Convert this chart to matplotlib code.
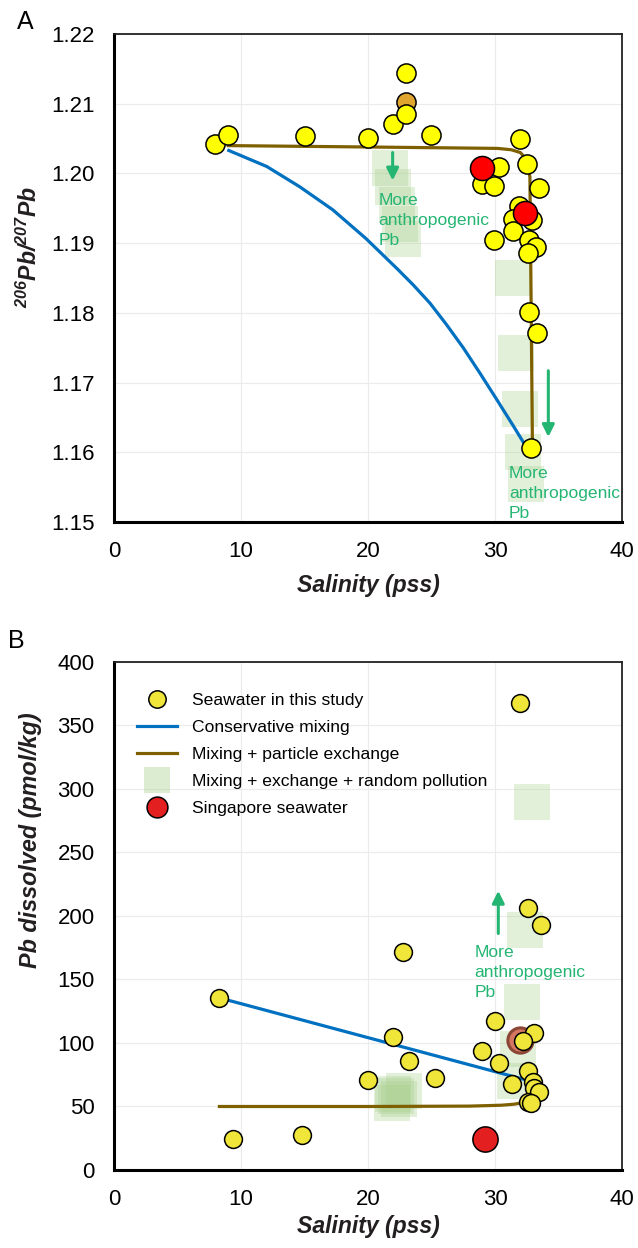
import matplotlib
matplotlib.use("Agg")
import matplotlib.pyplot as plt
from matplotlib.lines import Line2D

plt.rcParams['font.family'] = ['Liberation Sans', 'DejaVu Sans']
plt.rcParams['mathtext.fontset'] = 'custom'
plt.rcParams['mathtext.rm'] = 'Liberation Sans:bold:italic'
plt.rcParams['mathtext.it'] = 'Liberation Sans:bold:italic'
plt.rcParams['mathtext.bf'] = 'Liberation Sans:bold:italic'

# ---- panel A : 206Pb/207Pb vs salinity ----
a_sal = [7.99, 8.96, 15.0, 19.97, 22.0, 23.0, 23.0, 24.97, 32.0, 30.3, 28.96, 29.96,
         32.5, 33.5, 31.9, 31.4, 32.9, 31.4, 29.96, 32.7, 33.25, 32.6, 32.64, 33.3, 32.87]
a_ratio = [1.2043, 1.2055, 1.2054, 1.2051, 1.2071, 1.2144, 1.2085, 1.2055, 1.2049, 1.2009,
           1.1985, 1.1982, 1.2014, 1.1979, 1.1954, 1.1934, 1.1933, 1.1918, 1.1904, 1.1904,
           1.1895, 1.1886, 1.1801, 1.1771, 1.1606]
a_orange_sal = [23.0]
a_orange_ratio = [1.2103]
a_sg_sal = [28.96, 32.4]
a_sg_ratio = [1.2008, 1.1944]

a_cons_sal = [9.04, 12.03, 14.62, 17.22, 19.82, 22.26, 23.57, 24.88, 26.19, 27.5, 28.8,
              30.13, 31.44, 32.65]
a_cons_ratio = [1.2033, 1.2010, 1.1981, 1.1948, 1.1907, 1.1864, 1.1840, 1.1814, 1.1783,
                1.1750, 1.1714, 1.1676, 1.1638, 1.1602]
a_exch_sal = [9.0, 20.0, 30.2, 31.3, 32.0, 32.4, 32.6, 32.75, 32.8, 32.95]
a_exch_ratio = [1.2040, 1.2038, 1.2036, 1.2034, 1.2030, 1.2022, 1.2010, 1.1995, 1.1900,
                1.1606]
a_poll_sal = [21.7, 22.0, 22.25, 22.5, 22.75, 31.4, 31.65, 32.0, 32.2, 32.45]
a_poll_ratio = [1.2008, 1.1980, 1.1955, 1.1928, 1.1906, 1.1850, 1.1743, 1.1662, 1.1600,
                1.1555]

# ---- panel B : dissolved Pb vs salinity ----
b_sal = [8.3, 9.34, 14.84, 20.0, 22.0, 22.76, 23.26, 25.26, 28.98, 29.97, 30.3, 31.33,
         31.96, 32.6, 32.6, 33.1, 33.0, 33.1, 33.46, 32.58, 32.8, 33.6, 32.2]
b_pb = [135.5, 24.7, 27.9, 71.0, 104.5, 171.6, 85.5, 72.1, 93.7, 117.6, 84.2, 67.6,
        368.0, 206.0, 77.9, 107.6, 69.0, 64.5, 61.1, 53.2, 52.5, 192.5, 101.8]
b_ring_sal = [31.97]
b_ring_pb = [102.4]
b_sg_sal = [29.2]
b_sg_pb = [24.2]

b_cons_sal = [8.3, 32.6]
b_cons_pb = [135.5, 70.5]
b_exch_sal = [8.3, 20.0, 28.0, 30.5, 31.5, 32.2, 32.6]
b_exch_pb = [50.0, 50.0, 50.3, 51.0, 51.8, 53.0, 55.0]
b_poll_sal = [32.9, 32.4, 32.1, 31.85, 31.6, 21.9, 22.2, 22.45, 22.8, 22.0]
b_poll_pb = [290, 189, 132, 95, 70, 53, 58, 56, 62, 60]

labels = ['Seawater in this study', 'Conservative mixing', 'Mixing + particle exchange',
          'Mixing + exchange + random pollution', 'Singapore seawater']

BLUE = '#0070c0'
BROWN = '#7f6000'
GREEN = '#25b573'
SQ = '#a9d08e'

fig = plt.figure(figsize=(6.38, 12.48), dpi=100)
axA = fig.add_axes([0.1787, 0.5817, 0.7962, 0.3910])
axB = fig.add_axes([0.1787, 0.0625, 0.7962, 0.4071])


def style(ax):
    ax.grid(True, color='#ebebeb', lw=0.8)
    ax.set_axisbelow(True)
    ax.tick_params(length=0, pad=14, labelsize=16)
    for s in ['left', 'bottom']:
        ax.spines[s].set_linewidth(2.2)
        ax.spines[s].set_color('black')
    for s in ['top', 'right']:
        ax.spines[s].set_linewidth(1.3)
        ax.spines[s].set_color('#222222')
    ax.set_xlim(0, 40)
    ax.set_xticks([0, 10, 20, 30, 40])
    ax.set_xlabel('Salinity (pss)', fontsize=16.6, fontweight='bold', style='italic',
                  color='#231f20')


def more_text(ax, x, y):
    ax.text(x, y, 'More\nanthropogenic\nPb', color=GREEN, fontsize=12.6,
            va='top', ha='left', linespacing=1.42, zorder=5)


def arrow(ax, x, y0, y1):
    ax.annotate('', xy=(x, y1), xytext=(x, y0),
                arrowprops=dict(arrowstyle='-|>', color=GREEN, lw=2.2,
                                mutation_scale=18), zorder=5)


# panel A
style(axA)
axA.set_ylim(1.15, 1.22)
axA.set_yticks([1.15, 1.16, 1.17, 1.18, 1.19, 1.20, 1.21, 1.22])
axA.set_yticklabels(['%.2f' % v for v in axA.get_yticks()])
axA.scatter(a_poll_sal, a_poll_ratio, marker='s', s=700, color=SQ, alpha=0.33, lw=0,
            zorder=1)
axA.plot(a_cons_sal, a_cons_ratio, color=BLUE, lw=2.3, zorder=2)
axA.plot(a_exch_sal, a_exch_ratio, color=BROWN, lw=2.3, zorder=2)
axA.scatter(a_sal, a_ratio, s=190, color='#ffff00', edgecolor='black', lw=1.1, zorder=3)
axA.scatter(a_orange_sal, a_orange_ratio, s=190, color='#e0a52e', edgecolor='black',
            lw=1.1, zorder=2.9)
axA.scatter(a_sg_sal, a_sg_ratio, s=300, color='#ff0000', edgecolor='black', lw=1.1,
            zorder=4)
arrow(axA, 21.94, 1.2034, 1.1986)
arrow(axA, 34.2, 1.1721, 1.1618)
more_text(axA, 20.8, 1.1972)
more_text(axA, 31.1, 1.1581)
axA.set_ylabel(r'$^{206}Pb/^{207}Pb$', fontsize=16.6, color='#231f20')
axA.yaxis.set_label_coords(-0.142, 0.5635)
axA.xaxis.set_label_coords(0.5, -0.106)
fig.text(0.039, 0.982, 'A', fontsize=18, ha='center', va='center')

# panel B
style(axB)
axB.set_ylim(0, 400)
axB.set_yticks(range(0, 401, 50))
axB.scatter(b_poll_sal, b_poll_pb, marker='s', s=700, color=SQ, alpha=0.33, lw=0,
            zorder=1)
axB.plot(b_cons_sal, b_cons_pb, color=BLUE, lw=2.3, zorder=2)
axB.plot(b_exch_sal, b_exch_pb, color=BROWN, lw=2.3, zorder=2)
axB.scatter(b_ring_sal, b_ring_pb, s=330, color='#d57660', edgecolor='#8c4636', lw=2.2,
            zorder=2.9)
axB.scatter(b_sal, b_pb, s=165, color='#f0e63a', edgecolor='black', lw=1.1, zorder=3)
axB.scatter(b_sg_sal, b_sg_pb, s=330, color='#e3201f', edgecolor='black', lw=1.1,
            zorder=4)
arrow(axB, 30.26, 184, 222)
more_text(axB, 28.4, 177)
axB.set_ylabel('Pb dissolved (pmol/kg)', fontsize=16.8, fontweight='bold',
               style='italic', color='#231f20')
axB.yaxis.set_label_coords(-0.142, 0.65)
axB.xaxis.set_label_coords(0.5, -0.089)
fig.text(0.025, 0.486, 'B', fontsize=18, ha='center', va='center')

handles = [
    Line2D([], [], ls='none', marker='o', markersize=12.5, markerfacecolor='#f0e63a',
           markeredgecolor='black', markeredgewidth=1.1),
    Line2D([], [], color=BLUE, lw=2.3),
    Line2D([], [], color=BROWN, lw=2.3),
    Line2D([], [], ls='none', marker='s', markersize=19, markerfacecolor=SQ,
           markeredgewidth=0, alpha=0.4),
    Line2D([], [], ls='none', marker='o', markersize=15, markerfacecolor='#e3201f',
           markeredgecolor='black', markeredgewidth=1.1),
]
axB.legend(handles, labels, loc='upper left', bbox_to_anchor=(0.045, 0.94),
           frameon=False, fontsize=12.6, handlelength=2.3, handletextpad=0.85,
           labelspacing=0.68, borderpad=0, borderaxespad=0)

fig.savefig('out.png', dpi=100)
